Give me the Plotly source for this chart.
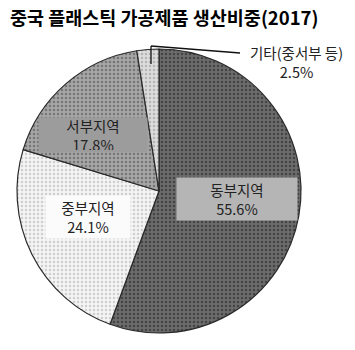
import plotly.graph_objects as go

title = "중국 플래스틱 가공제품 생산비중(2017)"
regions = ["동부지역", "중부지역", "서부지역", "기타(중서부 등)"]
shares = [55.6, 24.1, 17.8, 2.5]
colors = ["#6c6c6c", "#f4f4f4", "#a6a6a6", "#dcdcdc"]
pattern_fg = ["#444444", "#cfcfcf", "#767676", "#b4b4b4"]

W, H = 355, 350
cx, cy, r = 159, 191, 142

fig = go.Figure(go.Pie(
    labels=regions, values=shares, sort=False, direction="clockwise", rotation=0,
    textinfo="none", hoverinfo="label+percent", showlegend=False,
    marker=dict(colors=colors, line=dict(color="#2a2a2a", width=1.2),
                pattern=dict(shape=".", fgcolor=pattern_fg, size=4, solidity=0.3,
                             bgcolor=colors)),
    domain=dict(x=[(cx - r) / W, (cx + r) / W], y=[(H - cy - r) / H, (H - cy + r) / H]),
))

font_lbl = dict(family="Noto Sans CJK KR", size=14.5, color="#222")
# (center x, center y, box width, box height, bg)
label_pos = [(237, 199, 116, 38, "#b5b5b5"), (88, 217, 80, 38, "#fbfbfb"),
             (93, 135, 104, 30, "#9c9c9c")]
for i, (x, y, w, h, bg) in enumerate(label_pos):
    fig.add_annotation(x=x / W, y=1 - y / H, xref="paper", yref="paper",
                       xanchor="center", yanchor="middle",
                       text=f"{regions[i]}<br>{shares[i]}%", showarrow=False,
                       font=font_lbl, bgcolor=bg, borderpad=2, width=w, height=h,
                       align="center", valign="middle")
# small slice label outside
fig.add_annotation(x=296 / W, y=1 - 62 / H, xref="paper", yref="paper",
                   xanchor="center", yanchor="middle",
                   text=f"{regions[3]}<br>{shares[3]}%", showarrow=False,
                   font=font_lbl, align="center")
fig.add_shape(type="line", xref="paper", yref="paper",
              x0=151 / W, y0=1 - 64 / H, x1=151 / W, y1=1 - 46 / H,
              line=dict(color="#111", width=1.3))
fig.add_shape(type="line", xref="paper", yref="paper",
              x0=151 / W, y0=1 - 46 / H, x1=240 / W, y1=1 - 53 / H,
              line=dict(color="#111", width=1.3))

fig.add_annotation(x=8 / W, y=1 - 17 / H, xref="paper", yref="paper",
                   xanchor="left", yanchor="middle",
                   text=f"<b>{title}</b>", showarrow=False,
                   font=dict(family="Noto Sans CJK KR", size=18.5, color="#000"))

fig.update_layout(width=W, height=H, margin=dict(l=0, r=0, t=0, b=0),
                  paper_bgcolor="white", plot_bgcolor="white")
fig.write_html("out.html")
